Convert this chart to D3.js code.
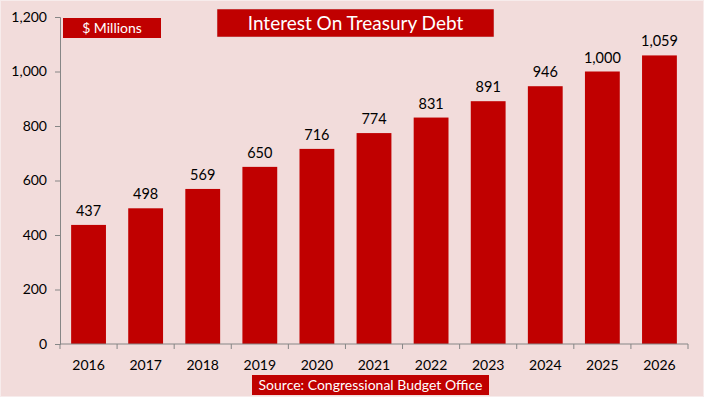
<!DOCTYPE html>
<html>
<head>
<meta charset="utf-8">
<script src="https://cdn.jsdelivr.net/npm/d3@7"></script>
<style>
  body { margin: 0; background: #f2dcdb; }
  text { font-family: Lato, "Open Sans", sans-serif; }
</style>
</head>
<body>
<div id="chart"></div>
<script>
// Interest on treasury debt, $ millions (CBO)
const years = ["2016", "2017", "2018", "2019", "2020", "2021", "2022", "2023", "2024", "2025", "2026"];
const interest = [437, 498, 569, 650, 716, 774, 831, 891, 946, 1000, 1059];
const yTicks = [0, 200, 400, 600, 800, 1000, 1200];

const width = 704, height = 397;
const margin = {top: 17, right: 16, bottom: 53, left: 60};

let svg = d3.select("#chart")
    .append("svg")
    .attr("width", width)
    .attr("height", height);

svg.append("rect")
    .attr("x", 0.5).attr("y", 0.5)
    .attr("width", width - 1).attr("height", height - 1)
    .attr("fill", "#f2dcdb")
    .attr("stroke", "#f7ecec");

let x = d3.scaleBand()
    .domain(years)
    .range([margin.left, width - margin.right])
    .paddingInner(0.39)
    .paddingOuter(0.195);

let y = d3.scaleLinear()
    .domain([0, 1200])
    .range([height - margin.bottom, margin.top]);

// y axis
let yAxis = svg.append("g")
    .attr("transform", `translate(${margin.left}, 0)`)
    .call(d3.axisLeft(y).tickValues(yTicks).tickSize(5).tickPadding(8).tickFormat(d3.format(",")));
yAxis.selectAll("text").style("font-size", "14px").attr("fill", "#000");

// bars
svg.selectAll(".bar")
    .data(interest)
    .enter()
    .append("rect")
    .attr("class", "bar")
    .attr("x", (d, i) => x(years[i]))
    .attr("y", d => y(d))
    .attr("width", x.bandwidth())
    .attr("height", d => y(0) - y(d))
    .attr("fill", "#c00000");

// value labels
svg.selectAll(".val")
    .data(interest)
    .enter()
    .append("text")
    .attr("class", "val")
    .attr("x", (d, i) => x(years[i]) + x.bandwidth() / 2)
    .attr("y", d => y(d) - 9)
    .attr("text-anchor", "middle")
    .style("font-size", "14.5px")
    .text(d => d3.format(",")(d));

// x axis with ticks at category boundaries
let xAxis = svg.append("g")
    .attr("transform", `translate(0, ${y(0)})`);
xAxis.append("line")
    .attr("x1", margin.left).attr("x2", width - margin.right)
    .attr("stroke", "#868686");
let step = x.step();
xAxis.selectAll(".xt")
    .data(d3.range(years.length + 1))
    .enter()
    .append("line")
    .attr("x1", i => margin.left + i * step)
    .attr("x2", i => margin.left + i * step)
    .attr("y2", 5)
    .attr("stroke", "#868686");
xAxis.selectAll(".xl")
    .data(years)
    .enter()
    .append("text")
    .attr("x", d => x(d) + x.bandwidth() / 2)
    .attr("y", 26)
    .attr("text-anchor", "middle")
    .style("font-size", "14px")
    .text(d => d);

yAxis.selectAll("path, line").attr("stroke", "#868686");

// units box
svg.append("rect")
    .attr("x", 63).attr("y", 18).attr("width", 98).attr("height", 20)
    .attr("fill", "#c00000");
svg.append("text")
    .attr("x", 112).attr("y", 33)
    .attr("text-anchor", "middle")
    .attr("fill", "#fff")
    .style("font-size", "14px")
    .text("$ Millions");

// title box
svg.append("rect")
    .attr("x", 217).attr("y", 9).attr("width", 277).attr("height", 28)
    .attr("fill", "#c00000")
    .attr("stroke", "#d9d9d9").attr("stroke-width", 0.5);
svg.append("text")
    .attr("x", 355.5).attr("y", 30)
    .attr("text-anchor", "middle")
    .attr("fill", "#fff")
    .style("font-size", "19px")
    .text("Interest On Treasury Debt");

// source box
svg.append("rect")
    .attr("x", 252).attr("y", 375).attr("width", 237).attr("height", 20)
    .attr("fill", "#c00000");
svg.append("text")
    .attr("x", 370.5).attr("y", 390)
    .attr("text-anchor", "middle")
    .attr("fill", "#fff")
    .style("font-size", "14px")
    .text("Source: Congressional Budget Office");
</script>
</body>
</html>
